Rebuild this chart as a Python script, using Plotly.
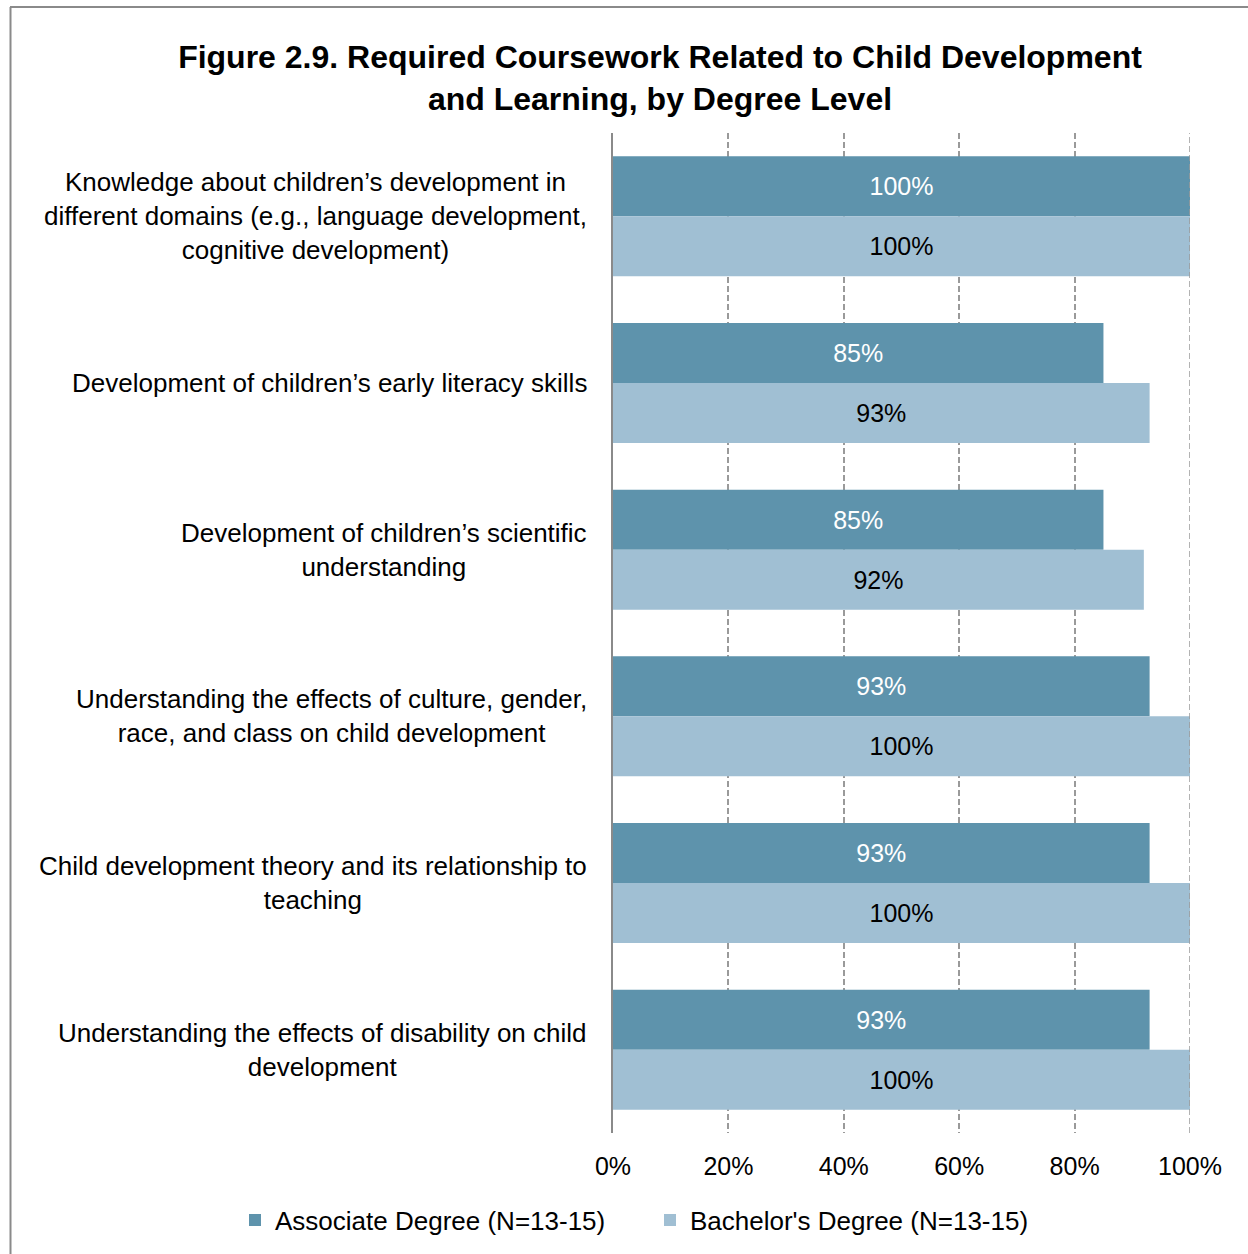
import plotly.graph_objects as go

categories = [
    "Knowledge about children’s development in<br>different domains (e.g., language development,<br>cognitive development)",
    "Development of children’s early literacy skills",
    "Development of children’s scientific<br>understanding",
    "Understanding the effects of culture, gender,<br>race, and class on child development",
    "Child development theory and its relationship to<br>teaching",
    "Understanding the effects of disability on child<br>development",
]
associate = [1.00, 0.85, 0.85, 0.93, 0.93, 0.93]
bachelor = [1.00, 0.93, 0.92, 1.00, 1.00, 1.00]
series_names = ["Associate Degree (N=13-15)", "Bachelor's Degree (N=13-15)"]
x_ticks = [0, 0.2, 0.4, 0.6, 0.8, 1.0]

W, H = 1248, 1254
L, R, T, B = 613, 58, 133, 121
pw, ph = W - L - R, H - T - B
FONT = "Liberation Sans, Arial, Helvetica, sans-serif"
GRID = "#9a9a9a"
DASH = "6px,3px"

fig = go.Figure()
fig.add_trace(go.Bar(
    y=categories, x=associate, orientation="h", name=series_names[0],
    marker=dict(color="#5E93AC", line=dict(width=0)),
    text=[f"{v:.0%}" for v in associate], textposition="inside",
    insidetextanchor="middle", textangle=0,
    textfont=dict(color="white", size=25, family=FONT),
))
fig.add_trace(go.Bar(
    y=categories, x=bachelor, orientation="h", name=series_names[1],
    marker=dict(color="#A0BFD3", line=dict(width=0)),
    text=[f"{v:.0%}" for v in bachelor], textposition="inside",
    insidetextanchor="middle", textangle=0,
    textfont=dict(color="black", size=25, family=FONT),
))

for c in categories:
    fig.add_annotation(
        x=-24 / pw, xref="paper", y=c, yref="y", text=c, showarrow=False,
        xanchor="right", yanchor="middle", align="center",
        font=dict(size=26, color="black", family=FONT),
    )

def px_x(p):
    return (p - L) / pw

def px_y(p):
    return (T + ph - p) / ph

# gridline at the 100% edge (plotly clips edge gridlines)
fig.add_shape(type="line", xref="x", yref="paper", x0=x_ticks[-1], x1=x_ticks[-1],
              y0=0, y1=1, line=dict(color=GRID, width=1.5, dash=DASH), layer="above")

border = dict(color="#8a8a8a", width=2)
fig.add_shape(type="line", xref="paper", yref="paper",
              x0=px_x(10.5), x1=px_x(10.5), y0=px_y(H + 5), y1=px_y(7), line=border)
fig.add_shape(type="line", xref="paper", yref="paper",
              x0=px_x(10), x1=px_x(W + 5), y0=px_y(7), y1=px_y(7), line=border)

fig.update_layout(
    width=W, height=H,
    margin=dict(l=L, r=R, t=T, b=B, autoexpand=False),
    paper_bgcolor="white", plot_bgcolor="white",
    barmode="group", bargap=0.28, bargroupgap=0,
    title=dict(
        text="<b>Figure 2.9. Required Coursework Related to Child Development<br>and Learning, by Degree Level</b>",
        x=660 / W, xanchor="center", xref="container",
        y=1 - 68 / H, yanchor="middle", yref="container",
        font=dict(size=32, color="black", family=FONT),
    ),
    xaxis=dict(
        range=[0, 1], tickvals=x_ticks, tickformat=".0%",
        showgrid=True, gridcolor=GRID, griddash=DASH, gridwidth=1.5,
        zeroline=False, showline=False, ticks="",
        ticklabelstandoff=16,
        tickfont=dict(size=25, color="black", family=FONT),
        fixedrange=True,
    ),
    yaxis=dict(
        autorange="reversed", showticklabels=False, showgrid=False,
        showline=True, linecolor="#8a8a8a", linewidth=2, ticks="",
        zeroline=False,
    ),
    legend=dict(
        orientation="h", xref="paper", x=px_x(235), xanchor="left",
        yref="paper", y=px_y(1220), yanchor="middle",
        font=dict(size=26, color="black", family=FONT),
        itemwidth=30, tracegroupgap=0, entrywidth=370, entrywidthmode="pixels",
    ),
    showlegend=True,
)

fig.write_html("out.html")
